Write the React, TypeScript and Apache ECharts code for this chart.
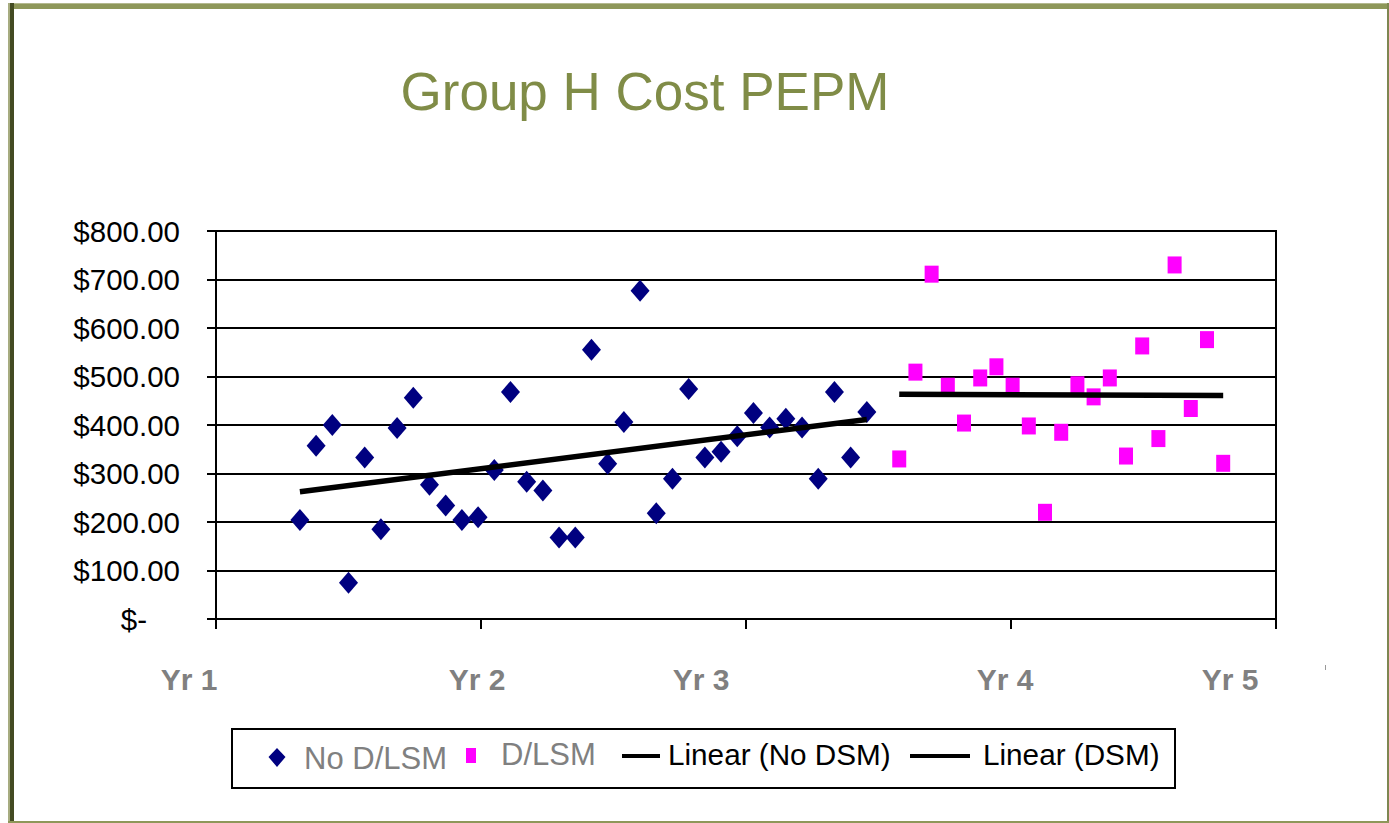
import React, { useEffect, useRef } from "react";
import * as echarts from "echarts";

const titleText = "Group H Cost PEPM";
const yearLabels = ["Yr 1", "Yr 2", "Yr 3", "Yr 4", "Yr 5"];
const yearLabelX = [189, 477, 701, 1005, 1230];

// month index of each observation
const noDsmMonths = [0, 1, 2, 3, 4, 5, 6, 7, 8, 9, 10, 11, 12, 13, 14, 15, 16, 17, 18, 19, 20, 21, 22, 23, 24, 25, 26, 27, 28, 29, 30, 31, 32, 33, 34, 35];
const noDsmValues = [204, 357, 400, 75, 333, 185, 394, 456, 277, 234, 204, 210, 307, 468, 283, 265, 168, 168, 555, 320, 406, 677, 218, 289, 474, 333, 345, 377, 425, 395, 413, 395, 289, 468, 333, 427];
const dsmMonths = [37, 38, 39, 40, 41, 42, 43, 44, 45, 46, 47, 48, 49, 50, 51, 52, 53, 54, 55, 56, 57];
const dsmValues = [330, 509, 711, 480, 404, 497, 520, 480, 398, 220, 385, 483, 458, 497, 336, 563, 372, 730, 434, 576, 321];

const MONTH_OFFSET = 5.18;
const MONTHS_PER_UNIT = 16.36;
const toX = (m: number) => (m + MONTH_OFFSET) / MONTHS_PER_UNIT;

function regression(xs: number[], ys: number[]) {
  const n = xs.length;
  const mx = xs.reduce((a, b) => a + b, 0) / n;
  const my = ys.reduce((a, b) => a + b, 0) / n;
  let sxy = 0, sxx = 0;
  for (let i = 0; i < n; i++) {
    sxy += (xs[i] - mx) * (ys[i] - my);
    sxx += (xs[i] - mx) * (xs[i] - mx);
  }
  const slope = sxy / sxx;
  const b = my - slope * mx;
  const x0 = xs[0], x1 = xs[n - 1];
  return [[toX(x0), b + slope * x0], [toX(x1), b + slope * x1]];
}

const FONT = "'Liberation Sans', Arial, sans-serif";

export default function App() {
  const ref = useRef<HTMLDivElement>(null);
  useEffect(() => {
    if (!ref.current) return;
    const chart = echarts.init(ref.current, null, { renderer: "svg" });
    const legendY = 756;
    const option: any = {
      animation: false,
      backgroundColor: "#ffffff",
      grid: {
        left: 216, right: 113, top: 231, bottom: 204,
        show: true, borderColor: "#000", borderWidth: 2,
      },
      xAxis: {
        type: "value", min: 0, max: 4, interval: 1,
        axisLine: { show: true, lineStyle: { color: "#000", width: 2 } },
        axisTick: { show: true, inside: false, length: 10, lineStyle: { color: "#000", width: 2 } },
        axisLabel: { show: false },
        splitLine: { show: false },
      },
      yAxis: {
        type: "value", min: 0, max: 800, interval: 100,
        axisLine: { show: true, lineStyle: { color: "#000", width: 2 } },
        axisTick: { show: true, inside: false, length: 9, lineStyle: { color: "#000", width: 2 } },
        axisLabel: {
          margin: 36, color: "#000", fontSize: 29.5, fontFamily: FONT,
          formatter: (v: number) => (v === 0 ? "{z|$-}" : "$" + v.toFixed(2)),
          rich: { z: { fontSize: 29.5, fontFamily: FONT, color: "#000", padding: [0, 33, 0, 0] } },
        },
        splitLine: { show: true, lineStyle: { color: "#000", width: 2 } },
      },
      series: [
        {
          name: "No D/LSM", type: "scatter", symbol: "diamond", symbolSize: [19, 22],
          itemStyle: { color: "#000080", opacity: 1 },
          data: noDsmMonths.map((m, i) => [toX(m), noDsmValues[i]]),
          z: 3,
        },
        {
          name: "D/LSM", type: "scatter", symbol: "rect", symbolSize: [14, 17],
          itemStyle: { color: "#FF00FF", opacity: 1 },
          data: dsmMonths.map((m, i) => [toX(m), dsmValues[i]]),
          z: 3,
        },
        {
          name: "Linear (No DSM)", type: "line", showSymbol: false, symbol: "none",
          lineStyle: { color: "#000", width: 5.5 },
          data: regression(noDsmMonths, noDsmValues), z: 4,
        },
        {
          name: "Linear (DSM)", type: "line", showSymbol: false, symbol: "none",
          lineStyle: { color: "#000", width: 5.5 },
          data: regression(dsmMonths, dsmValues), z: 4,
        },
      ],
      graphic: [
        // frame
        { type: "rect", shape: { x: 8, y: 3, width: 1381, height: 6 }, style: { fill: "#8e9759" }, silent: true },
        { type: "rect", shape: { x: 8, y: 3, width: 1381, height: 1 }, style: { fill: "#b4b98f" }, silent: true },
        { type: "rect", shape: { x: 8, y: 3, width: 2, height: 820 }, style: { fill: "#a7ac80" }, silent: true },
        { type: "rect", shape: { x: 10, y: 3, width: 4, height: 820 }, style: { fill: "#434b22" }, silent: true },
        { type: "rect", shape: { x: 1387, y: 3, width: 2, height: 820 }, style: { fill: "#7e8650" }, silent: true },
        { type: "rect", shape: { x: 8, y: 821, width: 1381, height: 2 }, style: { fill: "#8e9759" }, silent: true },
        // title
        {
          type: "text", x: 645, y: 91,
          style: { text: titleText, fontSize: 53, fontFamily: FONT, fill: "#808C47", align: "center", verticalAlign: "middle" },
        },
        // x labels
        ...yearLabels.map((t, i) => ({
          type: "text", x: yearLabelX[i], y: 679,
          style: { text: t, fontSize: 30, fontWeight: "bold", fontFamily: FONT, fill: "#808080", align: "center", verticalAlign: "middle" },
        })),
        { type: "rect", shape: { x: 1325, y: 665, width: 1, height: 5 }, style: { fill: "#999" } },
        // legend
        { type: "rect", shape: { x: 232, y: 729, width: 943, height: 59 }, style: { fill: "#fff", stroke: "#000", lineWidth: 2 } },
        { type: "polygon", shape: { points: [[277, 748], [285.5, 757], [277, 767], [268.5, 757]] }, style: { fill: "#000080" } },
        { type: "text", x: 304, y: 758, style: { text: "No D/LSM", fontSize: 31, fontFamily: FONT, fill: "#808080", verticalAlign: "middle" } },
        { type: "rect", shape: { x: 466, y: 748, width: 10, height: 15 }, style: { fill: "#FF00FF" } },
        { type: "text", x: 501, y: 754, style: { text: "D/LSM", fontSize: 31, fontFamily: FONT, fill: "#808080", verticalAlign: "middle" } },
        { type: "line", shape: { x1: 622, y1: legendY, x2: 660, y2: legendY }, style: { stroke: "#000", lineWidth: 4 } },
        { type: "text", x: 668, y: 754, style: { text: "Linear (No DSM)", fontSize: 29.7, fontFamily: FONT, fill: "#000", verticalAlign: "middle" } },
        { type: "line", shape: { x1: 910, y1: legendY, x2: 970, y2: legendY }, style: { stroke: "#000", lineWidth: 4 } },
        { type: "text", x: 983, y: 754, style: { text: "Linear (DSM)", fontSize: 29.7, fontFamily: FONT, fill: "#000", verticalAlign: "middle" } },
      ],
    };
    chart.setOption(option);
    return () => chart.dispose();
  }, []);
  return (
    <div
      ref={ref}
      style={{ position: "absolute", left: 0, top: 0, width: 1389, height: 823, background: "#fff" }}
    />
  );
}
